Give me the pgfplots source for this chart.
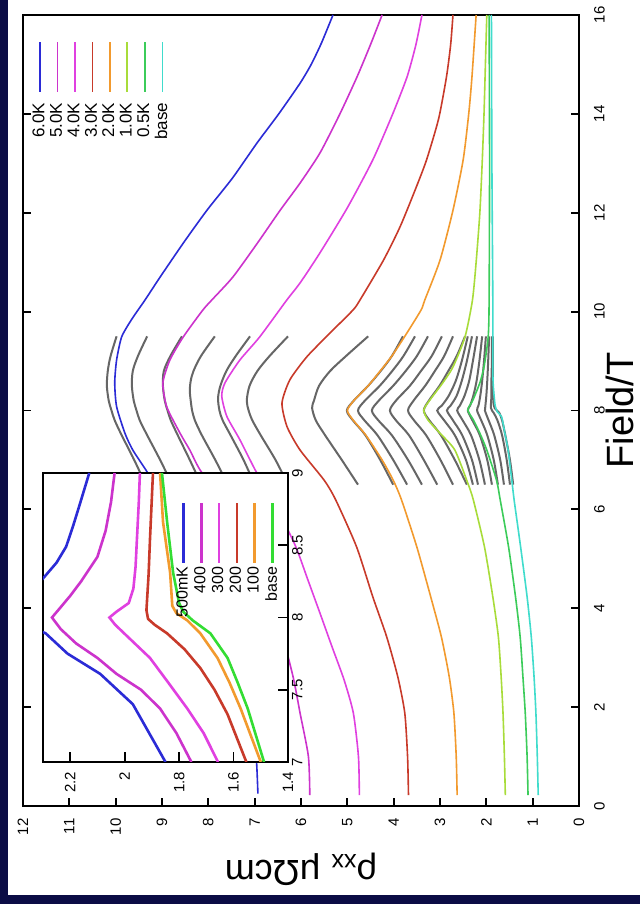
\documentclass[border=0pt]{standalone}
\usepackage{fontspec}
\setmainfont{Liberation Sans}
\usepackage{pgfplots}
\pgfplotsset{compat=1.18}

\definecolor{frame}{HTML}{0B0C45}
\definecolor{tsix}{HTML}{2B2BD6}
\definecolor{tfive}{HTML}{CC33CC}
\definecolor{tfour}{HTML}{E040E0}
\definecolor{tthree}{HTML}{C83A2A}
\definecolor{ttwo}{HTML}{F29A2E}
\definecolor{tone}{HTML}{A8DC3A}
\definecolor{thalf}{HTML}{3CCC5A}
\definecolor{tbase}{HTML}{40DCCC}
\definecolor{sweep}{HTML}{666666}
\definecolor{ibase}{HTML}{33DD33}

\pgfplotsset{
  sweepline/.style={sweep, line width=1pt, smooth, tension=0.5, forget plot},
  mainline/.style={line width=0.8pt, smooth, tension=0.4},
  insetline/.style={line width=1.3pt},
}

\begin{document}
\begin{tikzpicture}
\begin{scope}[rotate=90, transform shape]
\useasboundingbox (0,0) rectangle (452pt,320pt);
\fill[frame] (0,0) rectangle (452pt,320pt);
\fill[white] (4.5pt,0) rectangle (452pt,316pt);

% ---------------- main panel ----------------
\begin{axis}[
  at={(49pt,30.5pt)}, anchor=south west,
  scale only axis, width=395.5pt, height=278pt,
  xmin=0, xmax=16, ymin=0, ymax=12,
  xtick={0,2,...,16}, ytick={0,1,...,12},
  ytick pos=left,
  tick align=inside, major tick length=4pt,
  axis line style={line width=0.9pt},
  every tick/.style={black, line width=0.9pt},
  /pgf/number format/assume math mode=true,
  ticklabel style={font=\fontsize{7.5}{9}\selectfont},
  xticklabel style={yshift=-4pt},
  yticklabel style={xshift=-2.7pt},
  xlabel={Field/T},
  xlabel style={font=\fontsize{19}{22}\selectfont, at={(axis description cs:0.5,-0.0985)}, anchor=base},
  ylabel={ρ\textsubscript{xx} μΩcm},
  ylabel style={font=\fontsize{18}{21}\selectfont, at={(axis description cs:-0.0683,0.5)}, anchor=base},
  legend cell align=right, legend plot pos=right,
  legend image code/.code={\draw[#1] (0pt,0pt) -- (25pt,0pt);},
  legend style={at={(axis cs:15.6,11.89)}, anchor=north east, draw=none, fill=none,
    font=\fontsize{8.5}{9}\selectfont, row sep=1.3pt, column sep=5pt, nodes={inner sep=0pt}},
]

% field sweeps between 6.5 T and 9.5 T
\addplot[sweepline] coordinates {(6.5,9.35)(7.0,9.60)(7.5,9.87)(7.8,10.02)(8.0,10.09)(8.2,10.15)(8.5,10.19)(8.8,10.17)(9.1,10.11)(9.5,9.98)};
\addplot[sweepline] coordinates {(6.5,8.78)(7.0,9.04)(7.5,9.32)(7.8,9.48)(8.0,9.55)(8.2,9.61)(8.5,9.65)(8.8,9.63)(9.1,9.52)(9.5,9.32)};
\addplot[sweepline] coordinates {(6.5,8.15)(7.0,8.40)(7.5,8.66)(7.8,8.81)(8.0,8.88)(8.2,8.94)(8.5,8.98)(8.8,8.96)(9.1,8.82)(9.5,8.57)};
\addplot[sweepline] coordinates {(6.5,7.58)(7.0,7.85)(7.5,8.14)(7.8,8.29)(8.0,8.35)(8.2,8.38)(8.4,8.40)(8.6,8.38)(8.8,8.32)(9.1,8.16)(9.5,7.86)};
\addplot[sweepline] coordinates {(6.5,7.00)(7.0,7.24)(7.5,7.52)(7.8,7.69)(8.0,7.76)(8.25,7.79)(8.5,7.74)(8.8,7.61)(9.1,7.41)(9.5,7.10)};
\addplot[sweepline] coordinates {(6.5,6.28)(7.0,6.55)(7.5,6.87)(7.8,7.05)(8.0,7.13)(8.2,7.17)(8.5,7.11)(8.8,6.94)(9.1,6.68)(9.5,6.28)};
\addplot[sweepline] coordinates {(6.5,4.77)(7.0,5.12)(7.5,5.48)(7.8,5.68)(8.05,5.76)(8.2,5.72)(8.5,5.61)(8.8,5.37)(9.1,5.03)(9.5,4.55)};
\addplot[sweepline] coordinates {(6.5,4.01)(7.0,4.29)(7.5,4.61)(7.8,4.88)(8.0,5.01)(8.2,4.86)(8.5,4.55)(8.8,4.28)(9.1,4.04)(9.5,3.80)};
\addplot[sweepline] coordinates {(6.5,3.71)(7.0,4.01)(7.5,4.35)(7.8,4.63)(8.0,4.77)(8.2,4.62)(8.5,4.30)(8.8,4.03)(9.1,3.79)(9.5,3.54)};
\addplot[sweepline] coordinates {(6.5,3.39)(7.0,3.69)(7.5,4.04)(7.8,4.33)(8.0,4.47)(8.2,4.32)(8.5,4.01)(8.8,3.74)(9.1,3.50)(9.5,3.26)};
\addplot[sweepline] coordinates {(6.5,3.06)(7.0,3.35)(7.5,3.67)(7.8,3.95)(8.0,4.08)(8.2,3.95)(8.5,3.65)(8.8,3.41)(9.1,3.18)(9.5,2.96)};
\addplot[sweepline] coordinates {(6.5,2.72)(7.0,2.99)(7.5,3.30)(7.8,3.56)(8.0,3.69)(8.2,3.57)(8.5,3.32)(8.8,3.11)(9.1,2.91)(9.5,2.72)};
\addplot[sweepline] coordinates {(6.5,2.42)(7.0,2.68)(7.5,2.98)(7.8,3.23)(8.0,3.35)(8.2,3.24)(8.5,3.01)(8.8,2.82)(9.1,2.64)(9.5,2.46)};
\addplot[sweepline] coordinates {(6.5,2.29)(7.0,2.44)(7.5,2.68)(7.8,2.91)(8.0,3.06)(8.1,2.96)(8.3,2.81)(8.6,2.66)(9.0,2.53)(9.5,2.40)};
\addplot[sweepline] coordinates {(6.5,2.18)(7.0,2.31)(7.5,2.52)(7.8,2.72)(8.0,2.85)(8.1,2.77)(8.3,2.64)(8.6,2.53)(9.0,2.42)(9.5,2.31)};
\addplot[sweepline] coordinates {(6.5,2.03)(7.0,2.15)(7.5,2.33)(7.8,2.51)(8.0,2.63)(8.1,2.57)(8.3,2.47)(8.6,2.37)(9.0,2.29)(9.5,2.20)};
\addplot[sweepline] coordinates {(6.5,1.88)(7.0,1.98)(7.5,2.14)(7.8,2.30)(8.0,2.40)(8.1,2.35)(8.3,2.28)(8.6,2.21)(9.0,2.15)(9.5,2.09)};
\addplot[sweepline] coordinates {(6.5,1.75)(7.0,1.84)(7.5,1.98)(7.8,2.11)(8.0,2.20)(8.1,2.17)(8.3,2.13)(8.6,2.09)(9.0,2.05)(9.5,2.01)};
\addplot[sweepline] coordinates {(6.5,1.62)(7.0,1.70)(7.5,1.83)(7.8,1.95)(8.0,2.03)(8.1,2.02)(8.3,2.00)(8.6,1.98)(9.0,1.96)(9.5,1.94)};
\addplot[sweepline] coordinates {(6.5,1.49)(7.0,1.56)(7.5,1.66)(7.8,1.76)(7.95,1.84)(8.05,1.90)(8.3,1.89)(8.6,1.89)(9.0,1.88)(9.5,1.88)};
\addplot[sweepline] coordinates {(6.5,1.42)(7.0,1.49)(7.5,1.59)(7.8,1.66)(7.95,1.72)(8.05,1.82)(8.2,1.85)(8.6,1.86)(9.0,1.86)(9.5,1.86)};

% full field sweeps
\addplot[mainline, tsix] coordinates {(0.25,6.93)(0.9,6.96)(1.5,7.03)(2.5,7.25)(3.5,7.55)(4.5,7.95)(5.5,8.45)(6.2,8.95)(6.8,9.35)(7.2,9.63)(7.54,9.80)(8.08,9.98)(8.56,10.02)(9.02,9.98)(9.49,9.87)(9.85,9.65)(10.23,9.37)(10.7,9.04)(11.4,8.53)(12.05,8.03)(12.7,7.48)(13.41,6.95)(14.0,6.48)(14.62,6.02)(15.0,5.78)(15.43,5.56)(16.0,5.31)};
\addlegendentry{6.0K}
\addplot[mainline, tfive] coordinates {(0.22,5.81)(1.0,5.84)(1.88,6.02)(2.61,6.17)(3.5,6.42)(4.5,6.80)(5.5,7.28)(6.2,7.72)(6.8,8.18)(7.2,8.40)(7.54,8.61)(8.08,8.90)(8.56,8.98)(9.02,8.83)(9.49,8.54)(10.03,8.12)(10.23,7.93)(10.7,7.47)(11.4,6.93)(12.05,6.45)(12.6,6.02)(13.21,5.59)(14.0,5.16)(14.75,4.79)(15.4,4.50)(16.0,4.25)};
\addlegendentry{5.0K}
\addplot[mainline, tfour] coordinates {(0.22,4.74)(1.0,4.76)(1.88,4.87)(2.55,5.07)(3.22,5.33)(3.9,5.59)(4.57,5.85)(5.24,6.11)(5.9,6.45)(6.4,6.74)(6.8,6.99)(7.41,7.32)(7.88,7.60)(8.29,7.71)(8.56,7.64)(9.02,7.32)(9.49,6.89)(10.23,6.31)(10.58,6.02)(11.19,5.59)(12.1,5.00)(13.07,4.45)(14.0,4.02)(14.75,3.71)(15.4,3.52)(16.0,3.39)};
\addlegendentry{4.0K}
\addplot[mainline, tthree] coordinates {(0.22,3.68)(1.0,3.70)(1.88,3.76)(2.61,3.91)(3.42,4.15)(4.23,4.45)(5.24,4.80)(6.19,5.25)(6.59,5.50)(7.2,6.02)(7.67,6.30)(8.15,6.41)(8.62,6.24)(9.09,5.87)(9.57,5.37)(10.03,4.88)(10.23,4.73)(11.04,4.22)(11.72,3.86)(12.5,3.52)(13.07,3.29)(13.9,3.03)(14.75,2.86)(15.4,2.77)(16.0,2.72)};
\addlegendentry{3.0K}
\addplot[mainline, ttwo] coordinates {(0.22,2.63)(1.0,2.65)(1.88,2.70)(2.61,2.80)(3.42,2.97)(4.23,3.20)(5.24,3.50)(6.19,3.83)(6.59,4.01)(7.0,4.25)(7.5,4.60)(7.8,4.87)(8.0,5.00)(8.2,4.86)(8.5,4.55)(8.8,4.29)(9.1,4.04)(9.5,3.76)(10.03,3.41)(10.23,3.33)(11.04,3.00)(12.05,2.72)(13.07,2.50)(14.0,2.38)(14.75,2.31)(16.0,2.22)};
\addlegendentry{2.0K}
\addplot[mainline, tone] coordinates {(0.22,1.59)(1.0,1.61)(1.88,1.64)(2.61,1.68)(3.42,1.74)(4.23,1.86)(5.24,2.04)(6.19,2.28)(6.53,2.40)(7.2,2.68)(7.54,3.00)(7.81,3.26)(8.01,3.35)(8.21,3.22)(8.56,2.94)(8.88,2.72)(9.49,2.46)(10.23,2.30)(11.0,2.22)(12.0,2.14)(13.0,2.09)(14.0,2.05)(15.0,2.02)(16.0,1.99)};
\addlegendentry{1.0K}
\addplot[mainline, thalf] coordinates {(0.22,1.10)(1.0,1.12)(1.88,1.16)(2.61,1.21)(3.42,1.27)(4.23,1.37)(5.24,1.52)(6.19,1.70)(6.59,1.78)(7.2,1.99)(7.54,2.14)(7.81,2.28)(8.01,2.40)(8.21,2.29)(8.56,2.14)(8.88,2.05)(9.49,1.96)(10.23,1.94)(13.0,1.93)(16.0,1.94)};
\addlegendentry{0.5K}
\addplot[mainline, tbase] coordinates {(0.22,0.88)(1.0,0.90)(1.88,0.93)(2.61,0.97)(3.42,1.03)(4.23,1.12)(5.24,1.26)(6.19,1.40)(6.59,1.45)(7.2,1.53)(7.54,1.60)(7.87,1.67)(7.97,1.76)(8.1,1.81)(8.5,1.85)(8.88,1.86)(10.23,1.86)(13.0,1.88)(16.0,1.89)};
\addlegendentry{base}
\end{axis}

% ---------------- inset: low temperatures near 8 T ----------------
\begin{axis}[
  at={(71pt,176pt)}, anchor=south west,
  scale only axis, width=144.5pt, height=122.5pt,
  xmin=7, xmax=9, ymin=1.4, ymax=2.3,
  xtick={7,7.5,8,8.5,9}, ytick={1.4,1.6,1.8,2,2.2},
  xtick pos=bottom, ytick pos=left,
  tick align=inside, major tick length=5pt,
  axis background/.style={fill=white},
  axis line style={line width=0.9pt},
  every tick/.style={black, line width=0.9pt},
  /pgf/number format/assume math mode=true,
  ticklabel style={font=\fontsize{7.5}{9}\selectfont},
  xticklabel style={yshift=1.5pt},
  yticklabel style={xshift=-1.5pt},
  legend cell align=right, legend plot pos=right,
  legend image code/.code={\draw[#1] (0pt,0pt) -- (30pt,0pt);},
  legend style={at={(axis cs:8.848,1.826)}, anchor=north east, draw=none, fill=none,
    font=\fontsize{8}{9}\selectfont, row sep=1.8pt, column sep=1.5pt, nodes={inner sep=0pt}},
]
\addplot[insetline, tsix] coordinates {(7.0,1.85)(7.2,1.91)(7.4,1.97)(7.61,2.09)(7.75,2.21)(7.89,2.29)(7.97,2.38)(8.03,2.45)(8.12,2.38)(8.27,2.30)(8.38,2.25)(8.49,2.215)(8.63,2.19)(8.77,2.167)(9.0,2.13)};
\addlegendentry{500mK}
\addplot[insetline, tfive] coordinates {(7.0,1.755)(7.2,1.81)(7.37,1.87)(7.5,1.94)(7.61,2.03)(7.72,2.10)(7.82,2.178)(7.92,2.235)(8.0,2.267)(8.06,2.24)(8.15,2.20)(8.25,2.16)(8.42,2.10)(8.6,2.07)(8.8,2.05)(9.0,2.037)};
\addlegendentry{400}
\addplot[insetline, tfour] coordinates {(7.0,1.657)(7.2,1.71)(7.37,1.77)(7.55,1.84)(7.72,1.907)(7.86,1.985)(7.95,2.035)(8.0,2.056)(8.04,2.03)(8.10,1.985)(8.2,1.968)(8.35,1.96)(8.54,1.955)(8.8,1.948)(9.0,1.944)};
\addlegendentry{300}
\addplot[insetline, tthree] coordinates {(7.0,1.553)(7.33,1.622)(7.5,1.67)(7.65,1.722)(7.78,1.78)(7.89,1.844)(7.95,1.89)(7.99,1.914)(8.05,1.920)(8.3,1.912)(8.54,1.907)(9.0,1.896)};
\addlegendentry{200}
\addplot[insetline, ttwo] coordinates {(7.0,1.50)(7.37,1.574)(7.55,1.615)(7.72,1.659)(7.89,1.722)(7.98,1.77)(8.03,1.81)(8.08,1.825)(8.31,1.833)(8.66,1.859)(9.0,1.87)};
\addlegendentry{100}
\addplot[insetline, ibase] coordinates {(7.0,1.488)(7.37,1.548)(7.55,1.585)(7.72,1.622)(7.89,1.685)(7.98,1.75)(8.04,1.785)(8.1,1.800)(8.31,1.822)(8.66,1.844)(9.0,1.863)};
\addlegendentry{base}
\end{axis}
\end{scope}
\end{tikzpicture}
\end{document}
